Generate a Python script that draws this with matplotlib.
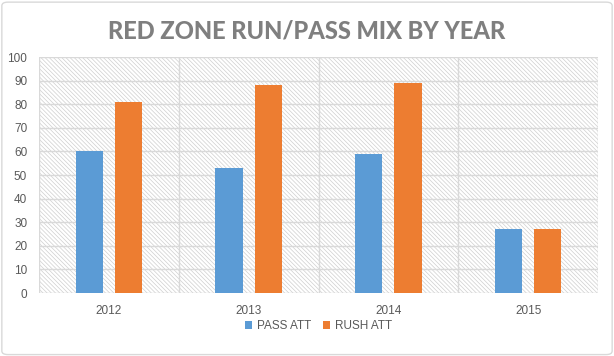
import matplotlib
matplotlib.use("Agg")
import matplotlib.pyplot as plt
import numpy as np
from matplotlib.patches import Rectangle, FancyBboxPatch

years = ["2012", "2013", "2014", "2015"]
pass_att = [60, 53, 59, 27]
rush_att = [81, 88, 89, 27]
yticks = [0, 10, 20, 30, 40, 50, 60, 70, 80, 90, 100]

plt.rcParams['hatch.linewidth'] = 0.5
plt.rcParams['font.family'] = ['Liberation Sans', 'DejaVu Sans']
fig = plt.figure(figsize=(6.14, 3.56), dpi=100, facecolor='white')
border = FancyBboxPatch((0.003, 0.004), 0.994, 0.99, boxstyle="round,pad=0,rounding_size=0.01",
                        transform=fig.transFigure, facecolor='none', edgecolor='#D9D9D9', lw=1, zorder=-5)
fig.patches.append(border)
ax = fig.add_axes([39/614, 1-293/356, (598-39)/614, (293-57)/356])
ax.set_facecolor('none')

bg = Rectangle((0, 0), 1, 1, transform=ax.transAxes, facecolor='white', edgecolor='#CFCFCF',
               hatch='\\' * 8, lw=0, zorder=0)
ax.add_patch(bg)

x = np.arange(len(years))
w = 0.195
off = 0.141
ax.bar(x - off, pass_att, w, color='#5B9BD5', label='PASS ATT', zorder=3)
ax.bar(x + off, rush_att, w, color='#ED7D31', label='RUSH ATT', zorder=3)

ax.set_xlim(-0.5, len(years) - 0.5)
ax.set_ylim(0, 100)
ax.set_yticks(yticks)
for yv in yticks[1:]:
    ax.axhline(yv, color='#D9D9D9', lw=1, zorder=1)
for xv in np.arange(-0.5, len(years), 1.0):
    ax.axvline(xv, color='#D9D9D9', lw=1, zorder=1)
ax.set_xticks(x)
ax.set_xticklabels(years)
for s in ax.spines.values():
    s.set_visible(False)
ax.axhline(0, color='#D9D9D9', lw=1, zorder=2)
ax.tick_params(axis='both', length=0, labelsize=8.5, colors='#595959')
ax.tick_params(axis='x', pad=9)
ax.tick_params(axis='y', pad=8.5)

fig.text(0.5, 1 - 31/356, "RED ZONE RUN/PASS MIX BY YEAR", ha='center', va='center',
         fontsize=17, fontweight='black', family='Lato', color='#7F7F7F')

ax.legend(loc='center', bbox_to_anchor=(0.5, -(326-293)/(293-57)), ncol=2, frameon=False,
          fontsize=8.5, handlelength=0.6, handleheight=0.6, handletextpad=0.4, columnspacing=1.0,
          labelcolor='#595959')

fig.savefig("out.png", dpi=100)
